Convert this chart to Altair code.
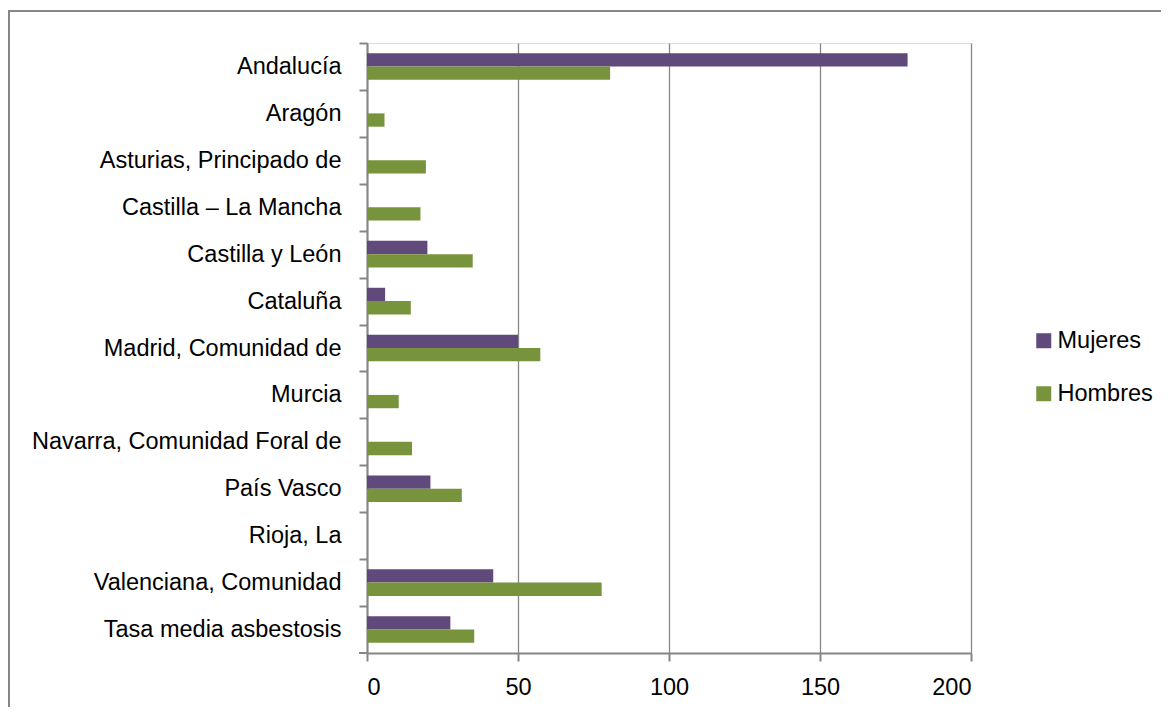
import altair as alt
import pandas as pd

regiones = [
    "Andalucía", "Aragón", "Asturias, Principado de", "Castilla – La Mancha",
    "Castilla y León", "Cataluña", "Madrid, Comunidad de", "Murcia",
    "Navarra, Comunidad Foral de", "País Vasco", "Rioja, La",
    "Valenciana, Comunidad", "Tasa media asbestosis",
]
mujeres = [179, 0, 0, 0, 20, 6, 50, 0, 0, 21, 0, 41.8, 27.6]
hombres = [80.5, 5.8, 19.5, 17.7, 35, 14.5, 57.4, 10.5, 14.9, 31.4, 0, 77.7, 35.5]
series = ["Mujeres", "Hombres"]
colores = ["#604A7B", "#77933C"]
x_ticks = [0, 50, 100, 150, 200]

rows = []
for r, m, h in zip(regiones, mujeres, hombres):
    rows.append({"region": r, "sexo": "Mujeres", "valor": m})
    rows.append({"region": r, "sexo": "Hombres", "valor": h})
df = pd.DataFrame(rows)

FONT = "'Liberation Sans', Arial, sans-serif"
FS = 23.5
GRAY = "#868686"
W, H = 604, 610
step = H / len(regiones)

bars = alt.Chart(df).mark_bar().encode(
    x=alt.X("valor:Q", scale=alt.Scale(domain=[0, 200], nice=False),
            axis=alt.Axis(values=x_ticks, title=None, grid=True, gridColor=GRAY,
                          gridWidth=1.3, domainColor=GRAY, domainWidth=2,
                          tickColor=GRAY, tickWidth=2, tickSize=8,
                          labelFont=FONT, labelFontSize=FS, labelColor="#000000",
                          labelPadding=14)),
    y=alt.Y("region:N", sort=regiones,
            scale=alt.Scale(paddingInner=0, paddingOuter=0),
            axis=alt.Axis(title=None, domainColor=GRAY, domainWidth=2,
                          tickColor=GRAY, tickWidth=2, tickSize=8,
                          tickOffset=-step / 2, labelOffset=step / 2,
                          labelFont=FONT, labelFontSize=FS, labelColor="#000000",
                          labelPadding=18, labelLimit=400)),
    yOffset=alt.YOffset("sexo:N", sort=series,
                        scale=alt.Scale(paddingInner=0, paddingOuter=0.763)),
    color=alt.Color("sexo:N", sort=series,
                    scale=alt.Scale(domain=series, range=colores),
                    legend=alt.Legend(title=None, orient="none", legendX=665, legendY=286,
                                      symbolType="square", symbolSize=225,
                                      symbolStrokeWidth=0, labelFont=FONT,
                                      labelFontSize=FS, labelColor="#000000",
                                      rowPadding=28, labelOffset=2)),
)

bottom_tick = alt.Chart(df).mark_rule(color=GRAY, strokeWidth=2).encode(
    x=alt.value(-8), x2=alt.value(0), y=alt.value(H)
)

frame = alt.Chart(df).mark_rect(fill=None, stroke=GRAY, strokeWidth=2).encode(
    x=alt.value(-358), x2=alt.value(820), y=alt.value(-32), y2=alt.value(720)
)

chart = alt.layer(frame, bars, bottom_tick).properties(
    width=W, height=H,
    autosize=alt.AutoSizeParams(type="none"),
    padding={"left": 359, "top": 35, "right": 190, "bottom": 54},
).configure_view(stroke=None).configure(background="white")

chart.save("out.html", embed_options={"renderer": "svg", "actions": False})
